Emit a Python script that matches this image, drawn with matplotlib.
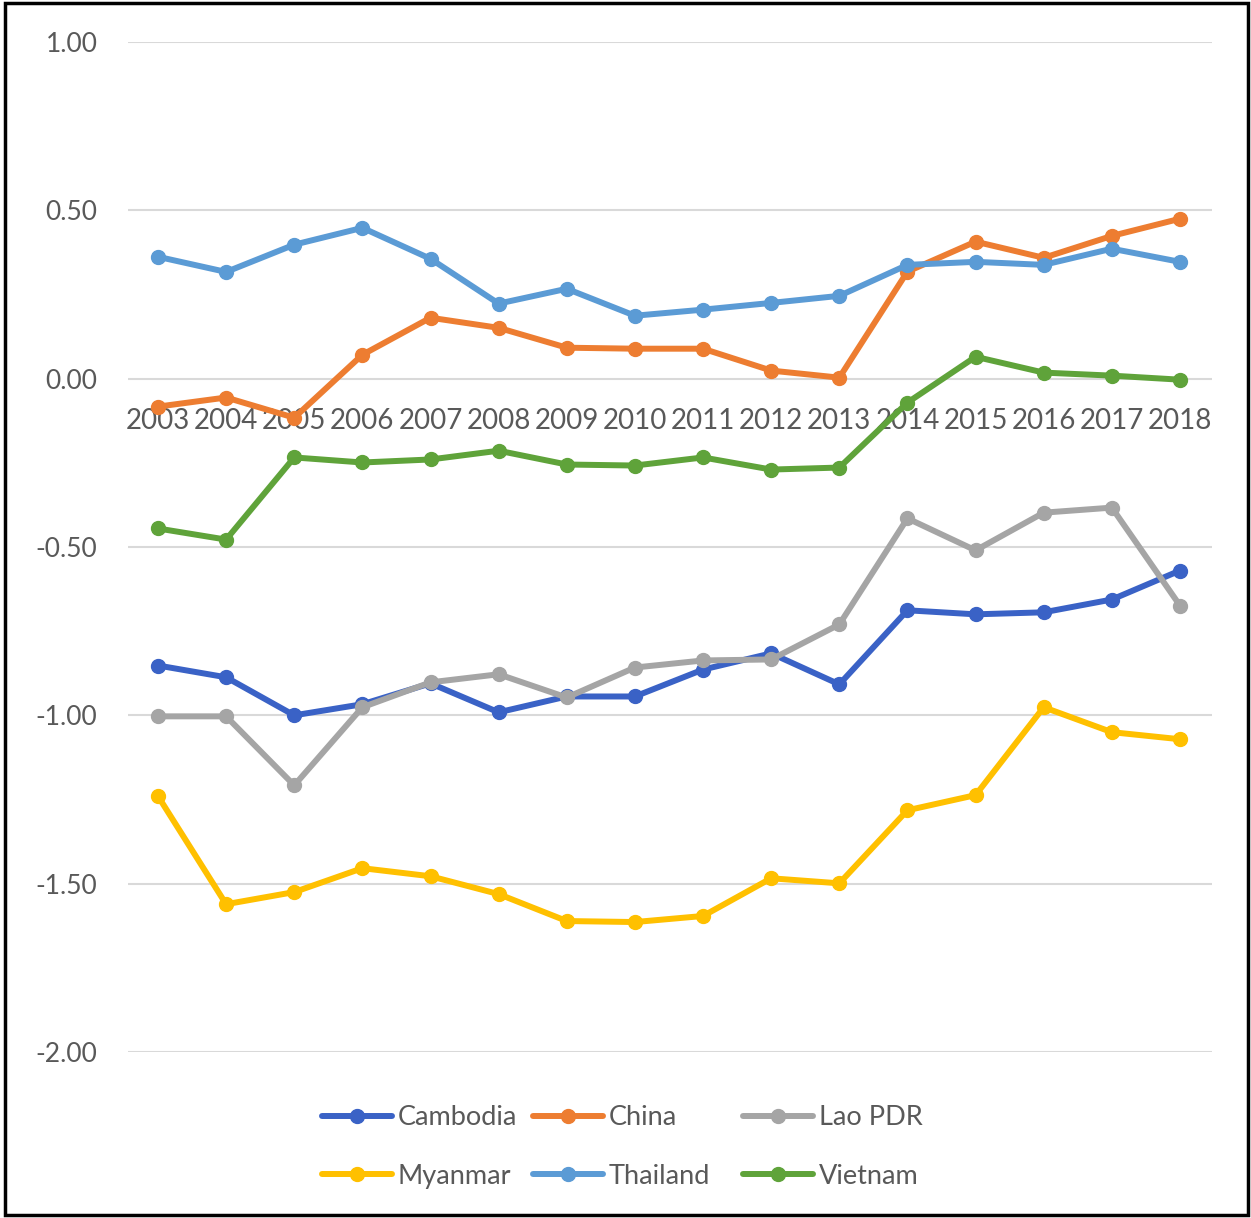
import matplotlib
matplotlib.use("Agg")
import matplotlib.pyplot as plt
from matplotlib.patches import Rectangle

years = ["2003", "2004", "2005", "2006", "2007", "2008", "2009", "2010",
         "2011", "2012", "2013", "2014", "2015", "2016", "2017", "2018"]

cambodia = [-0.852, -0.887, -1.000, -0.967, -0.905, -0.991, -0.944, -0.944,
            -0.864, -0.816, -0.908, -0.688, -0.700, -0.694, -0.656, -0.570]
china = [-0.083, -0.056, -0.116, 0.071, 0.181, 0.151, 0.092, 0.089,
         0.089, 0.024, 0.003, 0.318, 0.407, 0.359, 0.424, 0.475]
lao = [-1.003, -1.003, -1.208, -0.976, -0.902, -0.878, -0.947, -0.858,
       -0.837, -0.834, -0.730, -0.415, -0.510, -0.398, -0.383, -0.674]
myanmar = [-1.240, -1.561, -1.525, -1.454, -1.478, -1.531, -1.611, -1.614,
           -1.596, -1.484, -1.499, -1.282, -1.237, -0.976, -1.050, -1.071]
thailand = [0.362, 0.317, 0.398, 0.448, 0.356, 0.223, 0.267, 0.187,
            0.205, 0.225, 0.246, 0.338, 0.347, 0.338, 0.386, 0.347]
vietnam = [-0.445, -0.478, -0.234, -0.249, -0.240, -0.214, -0.255, -0.258,
           -0.234, -0.270, -0.264, -0.071, 0.065, 0.018, 0.009, -0.003]

series_names = ["Cambodia", "China", "Lao PDR", "Myanmar", "Thailand", "Vietnam"]
series_values = [cambodia, china, lao, myanmar, thailand, vietnam]
colors = ["#3A62C6", "#ED7D31", "#A5A5A5", "#FFC000", "#5B9BD5", "#5FA33A"]
yticks = [1.0, 0.5, 0.0, -0.5, -1.0, -1.5, -2.0]

plt.rcParams['font.family'] = ['Lato', 'DejaVu Sans']
txt_color = "#595959"

W, H = 1251, 1218
fig = plt.figure(figsize=(W / 100, H / 100), dpi=100)
ax = fig.add_axes([128 / W, 1 - 1052 / H, (1212 - 128) / W, (1052 - 42) / H])

x = list(range(len(years)))
handles = []
for name, vals, c in zip(series_names, series_values, colors):
    h, = ax.plot(x, vals, color=c, lw=4.3, marker='o', markersize=10,
                 label=name, zorder=3, solid_capstyle='round')
    handles.append(h)

ax.set_ylim(-2.0, 1.0)
ax.set_xlim(-0.44, 15.47)
ax.set_yticks(yticks)
ax.set_yticklabels([f"{v:.2f}" for v in yticks])
ax.set_xticks(x)
ax.set_xticklabels(years)
for s in ax.spines.values():
    s.set_visible(False)
ax.spines['bottom'].set_position(('data', 0))
ax.tick_params(axis='x', length=0, pad=21, labelsize=20, colors=txt_color)
ax.tick_params(axis='y', length=0, pad=22, labelsize=19, colors=txt_color)
ax.grid(axis='y', color="#D9D9D9", lw=1.5, zorder=0)
ax.set_axisbelow(True)

# legend: three columns, each placed at its own x position
col_x = [322, 533, 743]
col_items = [[0, 3], [1, 4], [2, 5]]
for cx, items in zip(col_x, col_items):
    leg = fig.legend([handles[i] for i in items], [series_names[i] for i in items],
                     loc='center left', bbox_to_anchor=(cx / W, 1 - 1147 / H),
                     frameon=False, fontsize=19.5, handlelength=2.6,
                     handletextpad=0.2, labelspacing=1.25, borderpad=0,
                     borderaxespad=0, labelcolor=txt_color)

fig.patches.append(Rectangle((5 / W, 3 / H), 1243 / W, 1212 / H,
                             transform=fig.transFigure, fill=False,
                             edgecolor='black', lw=2.5))

fig.savefig("out.png", dpi=100)
